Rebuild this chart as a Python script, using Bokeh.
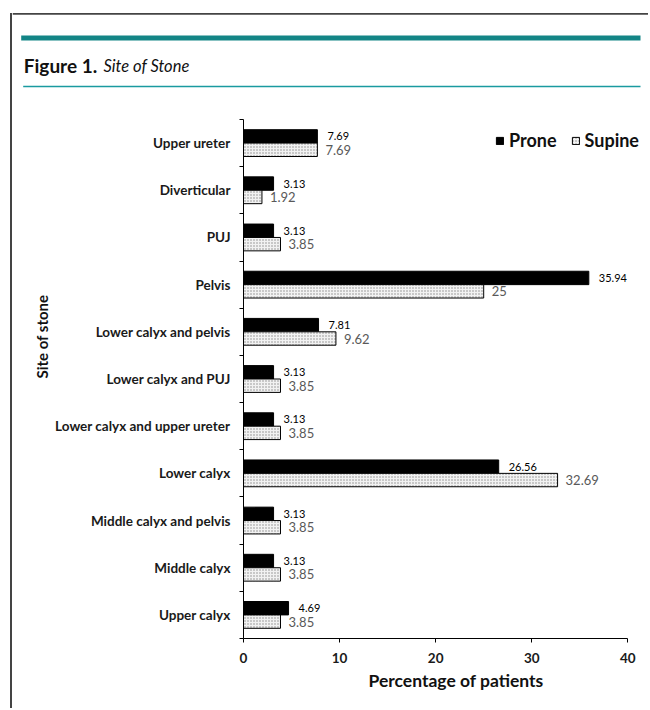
from bokeh.plotting import figure
from bokeh.layouts import row, column
from bokeh.models import (Range1d, LinearAxis, FixedTicker, Spacer, Title,
                          ColumnDataSource, Legend, LegendItem, Label, LabelSet, BoxAnnotation)
from bokeh.transform import dodge
from bokeh.core.properties import value
from bokeh.embed import file_html
from bokeh.resources import INLINE

# ---- data ----
categories = ["Upper ureter", "Diverticular", "PUJ", "Pelvis", "Lower calyx and pelvis",
              "Lower calyx and PUJ", "Lower calyx and upper ureter", "Lower calyx",
              "Middle calyx and pelvis", "Middle calyx", "Upper calyx"]
prone = [7.69, 3.13, 3.13, 35.94, 7.81, 3.13, 3.13, 26.56, 3.13, 3.13, 4.69]
supine = [7.69, 1.92, 3.85, 25, 9.62, 3.85, 3.85, 32.69, 3.85, 3.85, 3.85]
x_ticks = [0, 10, 20, 30, 40]
series_names = ["Prone", "Supine"]

FONT = "Lato"
TXT = "#1a1a1a"
W, HH, HM = 636, 88, 620          # content width, header height, chart height
n = len(categories)
ypos = list(range(n))[::-1]          # first category at the top

# ---------------- header ----------------
hdr = figure(width=W, height=HH, output_backend="svg", toolbar_location=None,
             x_range=Range1d(0, W), y_range=Range1d(HH, 0),
             x_axis_type=None, y_axis_type=None, min_border=0)
hdr.grid.visible = False
hdr.outline_line_color = None
hdr.background_fill_color = "white"
hdr.border_fill_color = "white"
hdr.add_layout(BoxAnnotation(left=0, right=W, top=12.5, bottom=14.2, fill_color="#444444",
                             fill_alpha=1, line_color=None))
hdr.add_layout(BoxAnnotation(left=8.7, right=628, top=35, bottom=40, fill_color="#138586",
                             fill_alpha=1, line_color=None))
hdr.add_layout(BoxAnnotation(left=10.7, right=628, top=85.3, bottom=86.8, fill_color="#1a9aa0",
                             fill_alpha=1, line_color=None))
hdr.add_layout(Label(x=11.3, y=65, text="Figure 1.", text_baseline="alphabetic",
                     text_font=FONT, text_font_style="bold", text_font_size="19px",
                     text_color="#111111"))
hdr.add_layout(Label(x=91, y=65, text="Site of Stone", text_baseline="alphabetic",
                     text_font=FONT, text_font_style="italic", text_font_size="16.5px",
                     text_color="#111111"))

# ---------------- chart ----------------
src = ColumnDataSource(dict(
    cat=categories, y=ypos, prone=prone, supine=supine,
    pl=[f"{v:g}" for v in prone], sl=[f"{v:g}" for v in supine]))

p = figure(width=W, height=HM, output_backend="svg", toolbar_location=None,
           y_range=Range1d(-0.5, n - 0.5), x_range=Range1d(0, 41.84),
           x_axis_type=None, y_axis_type=None,
           min_border_left=231, min_border_right=3, min_border_top=31, min_border_bottom=70)
p.grid.visible = False
p.outline_line_color = None
p.background_fill_color = "white"
p.border_fill_color = "white"

# inner axis: line + separator ticks between categories (its labels are not drawn)
sep_axis = LinearAxis(ticker=FixedTicker(ticks=[i - 0.5 for i in range(n + 1)]),
                      major_label_text_font_size="1px", major_label_text_color=None,
                      major_label_standoff=0,
                      major_tick_in=0, major_tick_out=4, minor_tick_line_color=None,
                      axis_line_color="black", major_tick_line_color="black")
# outer axis: category names
cat_axis = LinearAxis(ticker=FixedTicker(ticks=ypos),
                      major_label_overrides={y: c for y, c in zip(ypos, categories)},
                      axis_line_color=None, major_tick_line_color=None, minor_tick_line_color=None,
                      major_tick_in=0, major_tick_out=0, major_label_standoff=9,
                      major_label_text_font=FONT, major_label_text_font_style="bold",
                      major_label_text_font_size="13.5px", major_label_text_color=TXT)
p.add_layout(sep_axis, "left")
p.add_layout(cat_axis, "left")
p.add_layout(Title(text="Site of stone", align="left", offset=260, vertical_align="bottom",
                   standoff=4, text_font=FONT, text_font_style="bold", text_font_size="15px",
                   text_color="#111111"), "left")

x_axis = LinearAxis(ticker=FixedTicker(ticks=x_ticks), bounds=(0, 40),
                    major_tick_in=0, major_tick_out=4,
                    minor_tick_line_color=None, axis_line_color="black",
                    major_tick_line_color="black", major_label_standoff=10,
                    major_label_text_font=FONT, major_label_text_font_style="bold",
                    major_label_text_font_size="13.5px", major_label_text_color=TXT)
p.add_layout(x_axis, "below")
p.add_layout(Title(text="Percentage of patients", align="left", offset=125, standoff=4,
                   text_font=FONT, text_font_style="bold", text_font_size="17.5px",
                   text_color="#111111"), "below")

r_prone = p.hbar(y=dodge("y", 0.142), left=0, right="prone", height=0.284,
                 fill_color="black", line_color="black", source=src)
r_sup = p.hbar(y=dodge("y", -0.142), left=0, right="supine", height=0.284,
               fill_color="#f2f2f2", line_color="black", line_width=1,
               hatch_pattern="dot", hatch_color="#8a8a8a", hatch_scale=3, hatch_weight=1.5,
               source=src)

p.add_layout(LabelSet(x="prone", y=dodge("y", 0.142), text="pl", source=src,
                      x_offset=10, text_baseline="middle", text_font=value(FONT),
                      text_font_size="11px", text_color="black"))
p.add_layout(LabelSet(x="supine", y=dodge("y", -0.142), text="sl", source=src,
                      x_offset=8, text_baseline="middle", text_font=value(FONT),
                      text_font_size="13px", text_color="#595959"))

legend = Legend(items=[LegendItem(label=series_names[0], renderers=[r_prone]),
                       LegendItem(label=series_names[1], renderers=[r_sup])],
                orientation="horizontal", location=(252, 487), padding=0, margin=0,
                spacing=14, label_standoff=5, glyph_width=9, glyph_height=9,
                label_height=20, label_text_font=FONT, label_text_font_style="bold",
                label_text_font_size="18px", label_text_color="#111111",
                background_fill_alpha=0, border_line_color=None)
p.add_layout(legend, "center")

# ---------------- page frame ----------------
left_edge = column(Spacer(width=2, height=13),
                   Spacer(width=2, height=HH + HM - 13, styles={"background-color": "#444444"}))
layout = row(Spacer(width=10, height=1), left_edge, column(row(hdr), p))

open("out.html", "w").write(file_html(layout, INLINE))
